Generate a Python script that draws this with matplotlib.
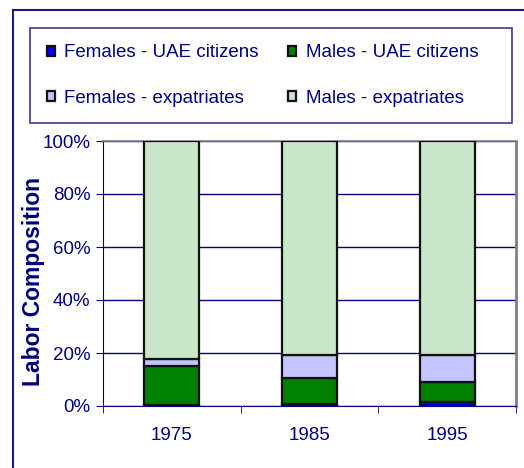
import matplotlib
matplotlib.use("Agg")
import matplotlib.pyplot as plt
from matplotlib.lines import Line2D
from matplotlib.patches import Rectangle
import numpy as np

plt.rcParams['font.family'] = ['Liberation Sans', 'DejaVu Sans']

years = ["1975", "1985", "1995"]
females_uae = [0.5, 0.6, 1.4]
males_uae = [14.7, 9.8, 7.8]
females_exp = [2.5, 8.7, 9.9]
males_exp = [82.3, 80.9, 80.9]
series_names = ["Females - UAE citizens", "Males - UAE citizens",
                "Females - expatriates", "Males - expatriates"]
colors = ["#0000ff", "#008000", "#c4c4ff", "#c8e6c8"]
yticks = [0, 20, 40, 60, 80, 100]

NAVY = "#000080"
W, H = 524, 468
fig = plt.figure(figsize=(W / 100, H / 100), dpi=100)

def fx(px):
    return px / W

def fy(py):
    return 1 - py / H

ax = fig.add_axes([fx(103), fy(406), fx(516) - fx(103), fy(141) - fy(406)])
x = np.arange(len(years))
series = [females_uae, males_uae, females_exp, males_exp]
bottom = np.zeros(len(years))
handles = []
for vals, name, c in zip(series, series_names, colors):
    b = ax.bar(x, vals, 0.40, bottom=bottom, color=c, edgecolor="#111111",
               linewidth=1.6, label=name, zorder=3)
    handles.append(b)
    bottom += np.array(vals)

ax.set_xlim(-0.5, len(years) - 0.5)
ax.set_ylim(0, 100)
ax.set_yticks(yticks)
ax.set_yticklabels([f"{v}%" for v in yticks])
ax.yaxis.grid(True, color=NAVY, linewidth=1.0, zorder=0)
ax.set_axisbelow(True)
ax.set_xticks(x)
ax.set_xticklabels(years)
ax.set_xticks(np.arange(-0.5, len(years) + 0.5, 1), minor=True)
ax.tick_params(axis='x', which='major', length=0, pad=15, labelsize=13.5, labelcolor=NAVY)
ax.tick_params(axis='x', which='minor', length=5, color=NAVY, direction='out')
ax.tick_params(axis='y', length=5, color=NAVY, labelsize=13.5, labelcolor=NAVY, pad=4)
ax.spines['left'].set_color(NAVY)
ax.spines['bottom'].set_color(NAVY)
ax.spines['top'].set_color("#808080")
ax.spines['right'].set_color("#808080")
ax.spines['right'].set_linewidth(2)
ax.spines['top'].set_linewidth(1.2)
ax.set_ylabel("Labor Composition", fontsize=16.5, fontweight='bold', color=NAVY)
ax.yaxis.set_label_coords((45 - 103) / 413, (406 - 282) / 265)

# outer frame
fig.add_artist(Line2D([fx(13), fx(13)], [fy(10), 0], color="#1a1a8c", linewidth=1.5))
fig.add_artist(Line2D([fx(13), 1], [fy(10), fy(10)], color="#1a1a8c", linewidth=1.5))

# legend
leg_handles = [handles[0], handles[2], handles[1], handles[3]]
leg_labels = [series_names[0], series_names[2], series_names[1], series_names[3]]
leg = fig.legend(leg_handles, leg_labels, ncol=2,
                 bbox_to_anchor=(fx(39), fy(75.5)),
                 loc='center left', fontsize=13.5,
                 handlelength=0.45, handleheight=0.45, handletextpad=0.5,
                 labelspacing=1.5, columnspacing=1.55, borderaxespad=0,
                 frameon=False, labelcolor=NAVY)
fig.add_artist(Rectangle((fx(30), fy(123)), fx(512) - fx(30), fy(28) - fy(123),
                         transform=fig.transFigure, fill=False,
                         edgecolor="#3a3a9a", linewidth=1.2))

fig.savefig("out.png", dpi=100)
